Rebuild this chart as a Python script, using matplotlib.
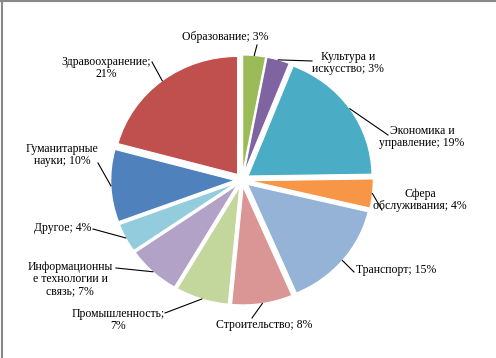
import numpy as np
import matplotlib
matplotlib.use("Agg")
import matplotlib.pyplot as plt
from matplotlib.transforms import Affine2D

categories = ["Образование", "Культура и\nискусство", "Экономика и\nуправление", "Сфера\nобслуживания",
              "Транспорт", "Строительство", "Промышленность;\n", "Информационны\nе технологии и\nсвязь",
              "Другое", "Гуманитарные\nнауки", "Здравоохранение;\n"]
values = [3, 3, 19, 4, 15, 8, 7, 7, 4, 10, 21]
colors = ["#9BBB59", "#8064A2", "#4BACC6", "#F79646", "#95B3D7", "#D99694",
          "#C3D69B", "#B3A2C7", "#93CDDD", "#4F81BD", "#C0504D"]

# layout (pixel coords, y from top): text center, leader end point
text_pos = [(225, 37), (348, 63), (422, 137), (420, 200), (396, 270), (264, 325),
            (118, 320), (70, 279), (63, 228), (62, 155), (106, 68)]
line_end = [(257, 45), (312, 61), (388, 135), (382, 210), (354, 272), (252, 318),
            (165, 313), (116, 268), (93, 229), (98, 163), (152, 62)]

W, H = 496, 358
fig = plt.figure(figsize=(W / 100, H / 100), dpi=100)
ax = fig.add_axes([0, 0, 1, 1])

cx, cy, R = 242, H - 180, 118
expl = 7
sx_scale = 1.05
wedges, _ = ax.pie(values, colors=colors, startangle=90, counterclock=False,
                   center=(cx, cy), radius=R, explode=[expl] * len(values),
                   wedgeprops=dict(edgecolor="white", linewidth=0.8), frame=True)
ax.set_xlim(0, W)
ax.set_ylim(0, H)
ax.set_aspect("auto")
ax.axis("off")
stretch = Affine2D().translate(-cx, -cy).scale(sx_scale, 1).translate(cx, cy)
for w in wedges:
    w.set_transform(stretch + ax.transData)

total = sum(values)
ang = 90.0
for i, v in enumerate(values):
    span = v / total * 360
    mid = np.deg2rad(ang - span / 2)
    ang -= span
    rr = R + expl
    sx, sy = cx + sx_scale * rr * np.cos(mid), cy + rr * np.sin(mid)
    ex, ey = line_end[i][0], H - line_end[i][1]
    ax.plot([sx, ex], [sy, ey], color="black", lw=0.8)
    name = categories[i]
    if name.endswith("\n"):
        label = f"{name}{v}%"
    else:
        label = f"{name}; {v}%"
    tx, ty = text_pos[i]
    ax.text(tx, H - ty, label, ha="center", va="center", fontsize=8.5,
            family=["Liberation Serif", "DejaVu Serif"], linespacing=1.05)

# border lines (top and left)
fig.add_artist(plt.Line2D([0, 1], [1 - 0.5 / H, 1 - 0.5 / H], color="#888888", lw=1.5, transform=fig.transFigure))
fig.add_artist(plt.Line2D([1.5 / W, 1.5 / W], [0, 1], color="#888888", lw=1.5, transform=fig.transFigure))

fig.savefig("out.png", dpi=100)
